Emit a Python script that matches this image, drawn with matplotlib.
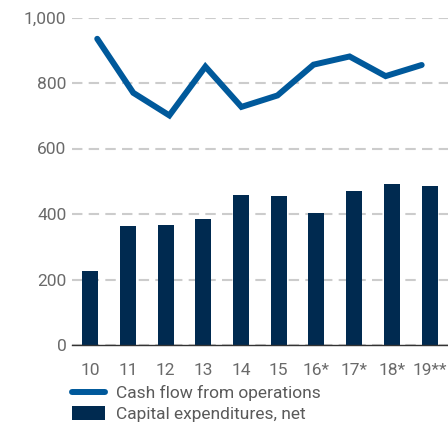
import matplotlib
matplotlib.use("Agg")
import matplotlib.pyplot as plt
from matplotlib.lines import Line2D
from matplotlib.patches import Patch
from matplotlib.ticker import FuncFormatter

years = ["10", "11", "12", "13", "14", "15", "16*", "17*", "18*", "19**"]
cash_flow = [935, 770, 701, 850, 727, 762, 856, 881, 821, 855]
capex = [226, 363, 366, 384, 459, 456, 403, 471, 493, 484]

line_color = "#00599b"
bar_color = "#002a50"
text_color = "#6a6a6a"

plt.rcParams["font.family"] = ["Roboto", "DejaVu Sans"]

fig = plt.figure(figsize=(4.48, 4.30), dpi=100)
ax = fig.add_axes([72 / 448, (430 - 345) / 430, (448 - 72) / 448, (345 - 17.5) / 430])

x = list(range(len(years)))
ax.bar(x, capex, width=0.425, color=bar_color, zorder=2)

# the line series sits on its own, slightly narrower x scale (as in the source chart)
ax2 = ax.twiny()
ax2.plot(x, cash_flow, color=line_color, linewidth=4.3, solid_capstyle="round",
         solid_joinstyle="miter", zorder=3)
ax2.set_xlim(-0.7, 9.73)
ax2.set_ylim(0, 1000)
ax2.axis("off")

ax.set_xlim(-0.48, 9.49)
ax.set_ylim(0, 1000)
ax.set_yticks([0, 200, 400, 600, 800, 1000])
ax.yaxis.set_major_formatter(FuncFormatter(lambda v, p: f"{int(v):,}"))
ax.set_xticks(x)
ax.set_xticklabels(years)

ax.grid(axis="y", color="#cccccc", linestyle=(0, (5, 3)), linewidth=1.5, zorder=0)
for s in ["top", "right", "left"]:
    ax.spines[s].set_visible(False)
ax.spines["bottom"].set_color("#333333")
ax.spines["bottom"].set_linewidth(1.0)
ax.spines["bottom"].set_zorder(4)

ax.tick_params(axis="both", length=0, labelsize=12.5, labelcolor=text_color)
ax.tick_params(axis="y", pad=4)
ax.tick_params(axis="x", pad=13)

handles = [Line2D([0], [0], color=line_color, linewidth=4.3, solid_capstyle="round"),
           Patch(facecolor=bar_color, edgecolor="none")]
labels = ["Cash flow from operations", "Capital expenditures, net"]
fig.legend(handles, labels, loc="upper left", bbox_to_anchor=(72 / 448, 1 - 385 / 430),
           frameon=False, fontsize=12.5, labelcolor="#5a5a5a", handlelength=1.9,
           handleheight=0.8, handletextpad=0.65, labelspacing=0.3,
           borderpad=0, borderaxespad=0)

fig.savefig("out.png", dpi=100)
